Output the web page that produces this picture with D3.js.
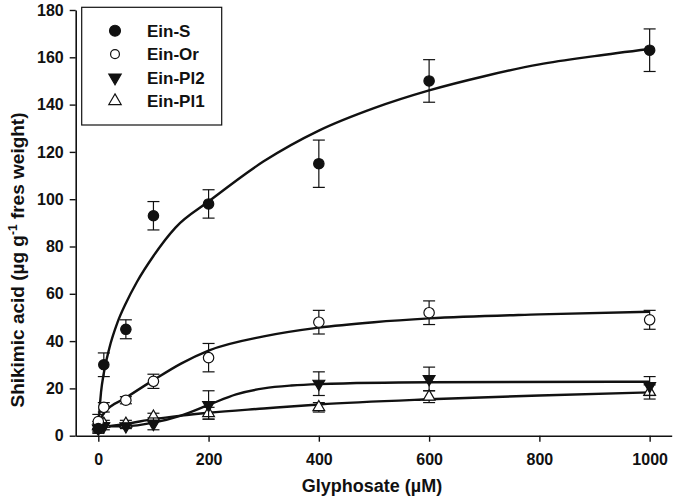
<!DOCTYPE html>
<html>
<head>
<meta charset="utf-8">
<script src="https://cdn.jsdelivr.net/npm/d3@7"></script>
<style>
  body { margin: 0; background: #fff; }
  svg { font-family: "Liberation Sans", Arial, sans-serif; }
</style>
</head>
<body>
<div id="chart"></div>
<script>
// glyphosate doses (µM)
const doses = [0, 10, 50, 100, 200, 400, 600, 1000];

const einS = [3, 30, 45, 93, 98, 115, 150, 163];
const einSErr = [1.5, 5, 4, 6, 6, 10, 9, 9];
const einOr = [6, 12, 15, 23, 33, 48, 52, 49];
const einOrErr = [3, 2, 1.5, 3, 6, 5, 5, 4];
const einPl2 = [3, 4, 4, 5, 13, 22, 24, 21];
const einPl2Err = [2, 1.5, 1, 2.5, 6, 5, 5, 4];
const einPl1 = [4, 5, 5, 8, 9.5, 12, 16.5, 18.5];
const einPl1Err = [2, 1.5, 1.5, 1.5, 2.5, 2, 2.5, 3];

// fitted curves as [dose, value]
const fitS = [[0, 1], [2, 10], [5, 18.5], [10, 26.5], [20, 37], [35, 48], [50, 56], [70, 65],
  [100, 76], [140, 88], [200, 99], [300, 116], [400, 129], [500, 138.5], [600, 146],
  [700, 152], [800, 157], [900, 160.5], [1000, 163.5]];
const fitOr = [[0, 5], [10, 9.5], [50, 16], [100, 23.5], [150, 30.5], [200, 36], [300, 42],
  [400, 45.7], [500, 48], [600, 49.6], [800, 51.3], [1000, 52.4]];
const fitPl2 = [[0, 4], [50, 4], [100, 5.5], [150, 8.5], [200, 13], [250, 17.5], [300, 20],
  [350, 21.2], [400, 21.8], [600, 22.6], [1000, 22.8]];
const fitPl1 = [[0, 3.5], [50, 5], [100, 7], [150, 8.5], [200, 9.7], [300, 11.5], [400, 13.2],
  [600, 15.4], [800, 17], [1000, 18.3]];

const xTicks = [0, 200, 400, 600, 800, 1000];
const yTicks = [0, 20, 40, 60, 80, 100, 120, 140, 160, 180];

const series = [
  { name: "Ein-S", vals: einS, err: einSErr, fit: fitS, shape: "circle", fill: "#111" },
  { name: "Ein-Or", vals: einOr, err: einOrErr, fit: fitOr, shape: "circle", fill: "#fff" },
  { name: "Ein-Pl2", vals: einPl2, err: einPl2Err, fit: fitPl2, shape: "down", fill: "#111" },
  { name: "Ein-Pl1", vals: einPl1, err: einPl1Err, fit: fitPl1, shape: "up", fill: "#fff" }
];

const W = 675, H = 500;
const svg = d3.select("#chart").append("svg")
  .attr("width", W)
  .attr("height", H);

const x = d3.scaleLinear().domain([-41, 1040]).range([75.7, 671.7]);
const y = d3.scaleLinear().domain([0, 180]).range([435.7, 10]);

// axes
const xAxis = svg.append("g")
  .attr("transform", `translate(0,${y(0)})`)
  .call(d3.axisBottom(x).tickValues(xTicks).tickFormat(d3.format("d"))
    .tickSize(6).tickSizeOuter(0).tickPadding(12));
const yAxis = svg.append("g")
  .attr("transform", `translate(${x.range()[0]},0)`)
  .call(d3.axisLeft(y).tickValues(yTicks).tickSize(6).tickSizeOuter(0).tickPadding(6));

[xAxis, yAxis].forEach(g => {
  g.select(".domain").attr("stroke", "#111").attr("stroke-width", 1.6);
  g.selectAll(".tick line").attr("stroke", "#111").attr("stroke-width", 1.4);
  g.selectAll(".tick text")
    .attr("fill", "#111")
    .style("font-size", "16px")
    .style("font-weight", "bold")
    .style("font-family", "'Liberation Sans', Arial, sans-serif");
});

// axis titles
svg.append("text")
  .attr("x", 372)
  .attr("y", 492)
  .attr("text-anchor", "middle")
  .attr("fill", "#111")
  .style("font-size", "18px")
  .style("font-weight", "bold")
  .text("Glyphosate (µM)");

const yTitle = svg.append("text")
  .attr("transform", "translate(24,260) rotate(-90)")
  .attr("text-anchor", "middle")
  .attr("fill", "#111")
  .style("font-size", "19px")
  .style("font-weight", "bold");
yTitle.append("tspan").text("Shikimic acid (µg g");
yTitle.append("tspan").attr("dy", -7).style("font-size", "12px").text("-1");
yTitle.append("tspan").attr("dy", 7).text(" fres weight)");

// fitted lines
const line = d3.line()
  .x(d => x(d[0]))
  .y(d => y(d[1]))
  .curve(d3.curveMonotoneX);

const plot = svg.append("g");

series.slice().reverse().forEach(s => {
  plot.append("path")
    .datum(s.fit)
    .attr("d", line)
    .attr("fill", "none")
    .attr("stroke", "#111")
    .attr("stroke-width", 2.4);
});

function drawMarker(g, shape, fill, cx, cy, scale) {
  if (shape === "circle") {
    g.append("circle")
      .attr("cx", cx).attr("cy", cy)
      .attr("r", 5.2 * scale)
      .attr("fill", fill)
      .attr("stroke", "#111")
      .attr("stroke-width", 1.2);
  } else {
    g.append("path")
      .attr("d", d3.symbol().type(d3.symbolTriangle).size(60 * scale * scale)())
      .attr("transform", `translate(${cx},${cy})` + (shape === "down" ? " rotate(180)" : ""))
      .attr("fill", fill)
      .attr("stroke", "#111")
      .attr("stroke-width", 1.2);
  }
}

// error bars and points
const cap = 6;
series.slice().reverse().forEach(s => {
  const g = plot.append("g");
  doses.forEach((d, i) => {
    const cx = x(d);
    const top = y(s.vals[i] + s.err[i]);
    const bot = y(s.vals[i] - s.err[i]);
    g.append("line")
      .attr("x1", cx).attr("x2", cx)
      .attr("y1", top).attr("y2", bot)
      .attr("stroke", "#111").attr("stroke-width", 1.2);
    [top, bot].forEach(yy => {
      g.append("line")
        .attr("x1", cx - cap).attr("x2", cx + cap)
        .attr("y1", yy).attr("y2", yy)
        .attr("stroke", "#111").attr("stroke-width", 1.2);
    });
  });
  doses.forEach((d, i) => {
    drawMarker(g, s.shape, s.fill, x(d), y(s.vals[i]), 1);
  });
});

// legend
const legend = svg.append("g");
legend.append("rect")
  .attr("x", 81.7).attr("y", 7.3)
  .attr("width", 140).attr("height", 117.7)
  .attr("fill", "#fff")
  .attr("stroke", "#111")
  .attr("stroke-width", 1.2);

const legendY = d3.scalePoint().domain(series.map(s => s.name)).range([30.7, 101]);
series.forEach(s => {
  const ly = legendY(s.name);
  const sc = s.name === "Ein-Or" ? 0.85 : 1.05;
  drawMarker(legend, s.shape, s.fill, 115, ly, sc);
  legend.append("text")
    .attr("x", 147)
    .attr("y", ly)
    .attr("dy", "0.36em")
    .attr("fill", "#111")
    .style("font-size", "17px")
    .style("font-weight", "bold")
    .text(s.name);
});
</script>
</body>
</html>
